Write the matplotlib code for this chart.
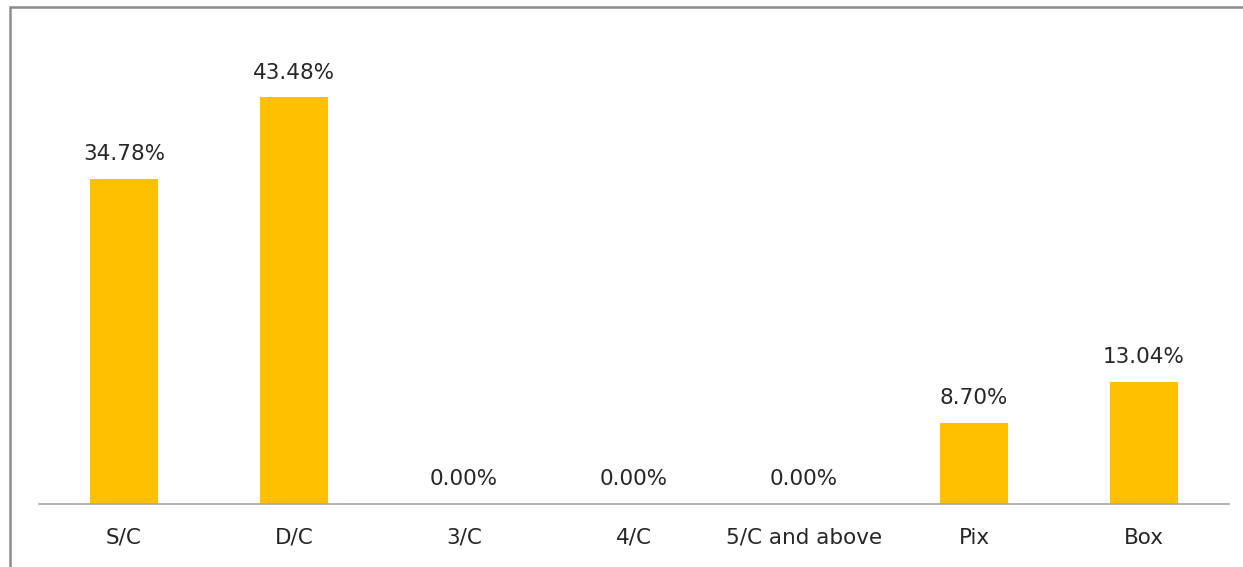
import matplotlib
matplotlib.use("Agg")
import matplotlib.pyplot as plt
from matplotlib.patches import Rectangle

categories = ["S/C", "D/C", "3/C", "4/C", "5/C and above", "Pix", "Box"]
values = [34.78, 43.48, 0.00, 0.00, 0.00, 8.70, 13.04]

plt.rcParams['font.family'] = ['DejaVu Sans']

W, H = 1243, 567
fig = plt.figure(figsize=(W / 100, H / 100), dpi=100)
ax = fig.add_axes([39 / W, (H - 504) / H, (1229 - 39) / W, 467.5 / H])

x = range(len(categories))
bars = ax.bar(x, values, width=0.4, color="#FFC000")
for b, v in zip(bars, values):
    ax.annotate(f"{v:.2f}%", (b.get_x() + b.get_width() / 2, v),
                xytext=(0, 10.5), textcoords="offset points",
                ha="center", va="bottom", fontsize=15.5, color="#262626")

ax.set_xlim(-0.5, len(categories) - 0.5)
ax.set_ylim(0, 50)
ax.set_xticks(list(x))
ax.set_xticklabels(categories, fontsize=15.5, color="#262626")
ax.tick_params(axis="x", length=0, pad=17)
ax.set_yticks([])
for s in ["top", "right", "left"]:
    ax.spines[s].set_visible(False)
ax.spines["bottom"].set_color("#A6A6A6")
ax.spines["bottom"].set_linewidth(1.2)

# outer chart border (cropped on the right and bottom in the original)
fig.patches.append(Rectangle((10 / W, -0.05), 1.0, (H - 7) / H + 0.05,
                             transform=fig.transFigure, fill=False,
                             edgecolor="#8C8C8C", linewidth=1.8))

fig.savefig("out.png", dpi=100)
